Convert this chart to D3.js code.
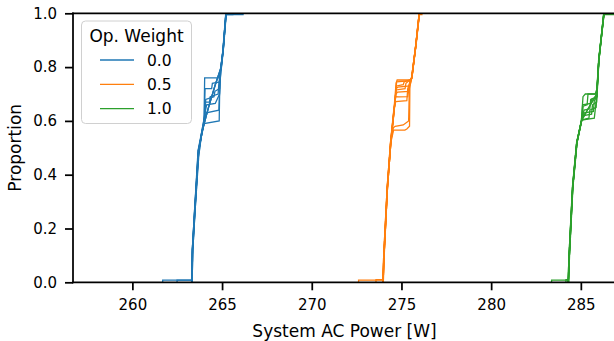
<!DOCTYPE html>
<html>
<head>
<meta charset="utf-8">
<script src="https://cdn.jsdelivr.net/npm/d3@7"></script>
<style>
  html, body { margin: 0; padding: 0; background: #fff; }
  svg { display: block; font-family: "DejaVu Sans", sans-serif; }
</style>
</head>
<body>
<svg id="chart"></svg>
<script>
// ─── Data (ECDF runs as [power W, proportion]) ───────────────────────────────
const weights = ["0.0", "0.5", "1.0"];
const colors  = ["#1f77b4", "#ff7f0e", "#2ca02c"];

const xTicks = [260, 265, 270, 275, 280, 285];
const yTicks = [0.0, 0.2, 0.4, 0.6, 0.8, 1.0];

const runs00 = [
  [[261.69,0],[261.69,0.008],[263.30,0.008],[263.34,0.12],[263.47,0.26],[263.67,0.49],[263.99,0.59],[264.03,0.76],[264.87,0.76],[264.90,0.78],[265.05,0.86],[265.21,0.995],[265.21,1]],
  [[262.49,0],[262.49,0.008],[263.31,0.008],[263.35,0.12],[263.48,0.26],[263.69,0.49],[264.01,0.60],[264.05,0.72],[264.42,0.72],[264.46,0.74],[264.88,0.745],[264.92,0.78],[265.06,0.86],[265.22,0.995],[266.17,0.995],[266.17,1]],
  [[263.32,0],[263.36,0.12],[263.48,0.26],[263.68,0.49],[264.00,0.59],[264.84,0.60],[264.88,0.77],[265.04,0.86],[265.20,0.995],[265.20,1]],
  [[263.31,0],[263.35,0.12],[263.47,0.26],[263.67,0.46],[263.85,0.55],[264.20,0.64],[264.60,0.73],[264.95,0.80],[265.07,0.87],[265.22,0.995],[265.22,1]],
  [[263.33,0],[263.37,0.12],[263.49,0.26],[263.70,0.47],[263.88,0.56],[264.25,0.65],[264.65,0.74],[264.97,0.80],[265.08,0.87],[265.23,0.995],[265.23,1]],
  [[263.30,0],[263.34,0.12],[263.46,0.26],[263.66,0.49],[264.04,0.62],[264.09,0.68],[264.55,0.69],[264.60,0.71],[264.86,0.72],[264.91,0.79],[265.05,0.86],[265.21,0.995],[265.21,1]],
  [[263.32,0],[263.36,0.12],[263.48,0.26],[263.69,0.49],[264.05,0.63],[264.14,0.66],[264.62,0.665],[264.86,0.70],[264.93,0.79],[265.06,0.86],[265.22,0.995],[265.60,0.995],[265.60,1]],
  [[263.31,0],[263.35,0.12],[263.47,0.26],[263.68,0.48],[264.02,0.61],[264.06,0.67],[264.30,0.67],[264.34,0.69],[264.78,0.70],[264.82,0.74],[264.90,0.78],[265.05,0.86],[265.21,0.995],[265.21,1]],
  [[263.30,0],[263.34,0.12],[263.46,0.26],[263.66,0.47],[263.86,0.555],[264.22,0.645],[264.62,0.735],[264.94,0.80],[265.06,0.87],[265.21,0.995],[265.21,1]],
  [[263.33,0],[263.37,0.12],[263.49,0.26],[263.70,0.49],[264.03,0.61],[264.12,0.63],[264.82,0.64],[264.88,0.74],[264.94,0.79],[265.06,0.86],[265.22,0.995],[265.22,1]]
];

const runs05 = [
  [[272.61,0],[272.61,0.008],[273.97,0.008],[274.02,0.1],[274.21,0.35],[274.40,0.52],[274.58,0.64],[274.70,0.74],[274.76,0.752],[275.50,0.752],[275.58,0.76],[275.80,0.88],[275.98,0.995],[275.98,1]],
  [[273.58,0],[273.58,0.01],[273.98,0.01],[274.03,0.1],[274.22,0.35],[274.41,0.52],[274.59,0.64],[274.71,0.72],[274.80,0.726],[275.45,0.73],[275.50,0.75],[275.60,0.77],[275.81,0.88],[275.99,0.995],[276.14,0.995],[276.14,1]],
  [[273.98,0],[274.03,0.1],[274.21,0.35],[274.40,0.52],[274.58,0.63],[274.69,0.70],[274.78,0.707],[275.40,0.71],[275.47,0.75],[275.58,0.76],[275.80,0.88],[275.99,0.995],[275.99,1]],
  [[273.96,0],[274.01,0.1],[274.20,0.35],[274.39,0.52],[274.57,0.63],[274.68,0.69],[274.85,0.689],[275.35,0.69],[275.46,0.74],[275.57,0.76],[275.79,0.88],[275.98,0.995],[275.98,1]],
  [[273.99,0],[274.04,0.1],[274.22,0.35],[274.41,0.52],[274.56,0.566],[275.19,0.566],[275.30,0.57],[275.45,0.58],[275.47,0.73],[275.58,0.76],[275.80,0.88],[275.99,0.995],[275.99,1]],
  [[273.97,0],[274.02,0.1],[274.21,0.35],[274.40,0.52],[274.55,0.575],[274.65,0.58],[275.10,0.585],[275.40,0.60],[275.44,0.72],[275.57,0.76],[275.79,0.88],[275.98,0.995],[275.98,1]],
  [[273.98,0],[274.03,0.1],[274.22,0.35],[274.41,0.52],[274.59,0.64],[274.72,0.73],[275.10,0.735],[275.15,0.745],[275.55,0.755],[275.80,0.88],[276.00,0.995],[276.00,1]],
  [[273.97,0],[274.02,0.1],[274.21,0.35],[274.40,0.52],[274.58,0.64],[274.70,0.715],[275.20,0.72],[275.25,0.74],[275.56,0.757],[275.80,0.88],[275.99,0.995],[275.99,1]],
  [[273.96,0],[274.01,0.1],[274.20,0.35],[274.39,0.52],[274.57,0.64],[274.68,0.672],[275.30,0.675],[275.35,0.72],[275.48,0.745],[275.58,0.76],[275.80,0.88],[275.98,0.995],[275.98,1]],
  [[273.98,0],[274.03,0.1],[274.22,0.35],[274.41,0.52],[274.60,0.64],[274.73,0.745],[275.52,0.75],[275.59,0.765],[275.81,0.88],[276.00,0.995],[276.00,1]]
];

const runs10 = [
  [[283.37,0],[283.37,0.008],[284.29,0.008],[284.34,0.1],[284.54,0.354],[284.77,0.518],[285.03,0.60],[285.12,0.69],[285.25,0.70],[285.80,0.70],[285.90,0.72],[286.00,0.826],[286.27,0.995],[286.27,1]],
  [[284.17,0],[284.17,0.01],[284.31,0.01],[284.36,0.1],[284.55,0.354],[284.78,0.518],[285.05,0.605],[285.15,0.62],[285.60,0.625],[285.65,0.66],[285.88,0.67],[285.92,0.74],[286.01,0.826],[286.28,0.995],[286.28,1]],
  [[284.30,0],[284.35,0.1],[284.54,0.35],[284.77,0.52],[285.04,0.603],[285.45,0.61],[285.50,0.64],[285.85,0.65],[285.90,0.70],[286.00,0.826],[286.28,0.995],[286.28,1]],
  [[284.31,0],[284.36,0.1],[284.55,0.354],[284.78,0.518],[285.05,0.603],[285.45,0.65],[285.89,0.70],[286.00,0.826],[286.29,0.995],[286.29,1]],
  [[284.29,0],[284.34,0.1],[284.53,0.354],[284.76,0.518],[285.03,0.60],[285.10,0.66],[285.55,0.665],[285.60,0.68],[285.87,0.685],[285.91,0.72],[286.00,0.826],[286.27,0.995],[286.27,1]],
  [[284.31,0],[284.36,0.1],[284.55,0.354],[284.78,0.518],[285.05,0.603],[285.20,0.63],[285.70,0.635],[285.75,0.675],[285.90,0.69],[286.01,0.826],[286.28,0.995],[286.28,1]],
  [[284.30,0],[284.35,0.1],[284.54,0.354],[284.77,0.518],[285.04,0.60],[285.40,0.645],[285.88,0.70],[285.99,0.826],[286.27,0.995],[286.27,1]],
  [[284.32,0],[284.37,0.1],[284.56,0.354],[284.79,0.518],[285.06,0.605],[285.13,0.655],[285.35,0.66],[285.40,0.70],[285.85,0.70],[285.92,0.73],[286.01,0.826],[286.29,0.995],[286.29,1]],
  [[284.30,0],[284.35,0.1],[284.54,0.354],[284.77,0.518],[285.04,0.603],[285.75,0.61],[285.80,0.64],[285.85,0.67],[285.89,0.70],[286.00,0.826],[286.28,0.995],[286.28,1]],
  [[284.31,0],[284.36,0.1],[284.55,0.354],[284.78,0.518],[285.05,0.603],[285.18,0.64],[285.50,0.645],[285.55,0.68],[285.89,0.69],[286.00,0.826],[286.28,0.995],[286.96,0.995],[286.96,1]]
];

const groups = [runs00, runs05, runs10];

// ─── Layout ────────────────────────────────────────────────────────────────
const W = 614;
const H = 341;
const PLOT = { left: 73, right: 616, top: 13.3, bottom: 282.3 };
const X_DOMAIN = [256.69, 286.96];

const x = d3.scaleLinear().domain(X_DOMAIN).range([PLOT.left, PLOT.right]);
const y = d3.scaleLinear().domain([0, 1]).range([PLOT.bottom, PLOT.top]);

const SPINE_W = 1.75;
const TICK_FONT = "15px";
const LABEL_FONT = "17px";

// ─── SVG ───────────────────────────────────────────────────────────────────
const svg = d3.select("#chart")
  .attr("width", W).attr("height", H)
  .attr("viewBox", `0 0 ${W} ${H}`);

svg.append("defs").append("clipPath").attr("id", "plotClip")
  .append("rect")
  .attr("x", PLOT.left).attr("y", PLOT.top)
  .attr("width", PLOT.right - PLOT.left).attr("height", PLOT.bottom - PLOT.top);

// ── ECDF lines ─────────────────────────────────────────────────────────────
const line = d3.line().x(d => x(d[0])).y(d => y(d[1]));
const linesG = svg.append("g").attr("clip-path", "url(#plotClip)");

groups.forEach((runs, gi) => {
  linesG.append("g")
    .selectAll("path")
    .data(runs)
    .join("path")
    .attr("d", line)
    .attr("fill", "none")
    .attr("stroke", colors[gi])
    .attr("stroke-width", 1.3)
    .attr("stroke-linejoin", "miter");
});

// ── Axes ───────────────────────────────────────────────────────────────────
const xAxis = svg.append("g")
  .attr("transform", `translate(0,${PLOT.bottom})`)
  .call(d3.axisBottom(x).tickValues(xTicks).tickSize(8).tickSizeOuter(0).tickPadding(9)
    .tickFormat(d3.format("d")));

const yAxis = svg.append("g")
  .attr("transform", `translate(${PLOT.left},0)`)
  .call(d3.axisLeft(y).tickValues(yTicks).tickSize(8).tickSizeOuter(0).tickPadding(8)
    .tickFormat(d3.format(".1f")));

[xAxis, yAxis].forEach(g => {
  g.select(".domain").remove();
  g.selectAll(".tick line").attr("stroke", "#000").attr("stroke-width", SPINE_W);
  g.selectAll(".tick text")
    .attr("fill", "#000")
    .style("font-size", TICK_FONT)
    .style("font-family", "'DejaVu Sans', sans-serif");
});

// spines (left, bottom, top; right sits just past the frame)
const spines = svg.append("g").attr("stroke", "#000").attr("stroke-width", SPINE_W)
  .attr("stroke-linecap", "square");
spines.append("line").attr("x1", PLOT.left).attr("x2", PLOT.left).attr("y1", PLOT.top).attr("y2", PLOT.bottom);
spines.append("line").attr("x1", PLOT.left).attr("x2", PLOT.right).attr("y1", PLOT.bottom).attr("y2", PLOT.bottom);
spines.append("line").attr("x1", PLOT.left).attr("x2", PLOT.right).attr("y1", PLOT.top).attr("y2", PLOT.top);
spines.append("line").attr("x1", PLOT.right).attr("x2", PLOT.right).attr("y1", PLOT.top).attr("y2", PLOT.bottom);

// axis labels
svg.append("text")
  .attr("x", (PLOT.left + PLOT.right) / 2).attr("y", 337)
  .attr("text-anchor", "middle")
  .style("font-size", LABEL_FONT)
  .text("System AC Power [W]");

svg.append("text")
  .attr("transform", `translate(21,${(PLOT.top + PLOT.bottom) / 2}) rotate(-90)`)
  .attr("text-anchor", "middle")
  .style("font-size", LABEL_FONT)
  .text("Proportion");

// ── Legend ─────────────────────────────────────────────────────────────────
const legend = svg.append("g");
legend.append("rect")
  .attr("x", 81.5).attr("y", 21).attr("width", 110).attr("height", 102.5).attr("rx", 4)
  .attr("fill", "#fff").attr("fill-opacity", 0.8)
  .attr("stroke", "#d0d0d0").attr("stroke-width", 1);

legend.append("text")
  .attr("x", 136.5).attr("y", 41.5)
  .attr("text-anchor", "middle")
  .style("font-size", LABEL_FONT)
  .text("Op. Weight");

weights.forEach((w, i) => {
  const ly = 60 + i * 24.3;
  legend.append("line")
    .attr("x1", 100).attr("x2", 134).attr("y1", ly).attr("y2", ly)
    .attr("stroke", colors[i]).attr("stroke-width", 1.3);
  legend.append("text")
    .attr("x", 147).attr("y", ly + 5.5)
    .style("font-size", "15.5px")
    .text(w);
});
</script>
</body>
</html>
